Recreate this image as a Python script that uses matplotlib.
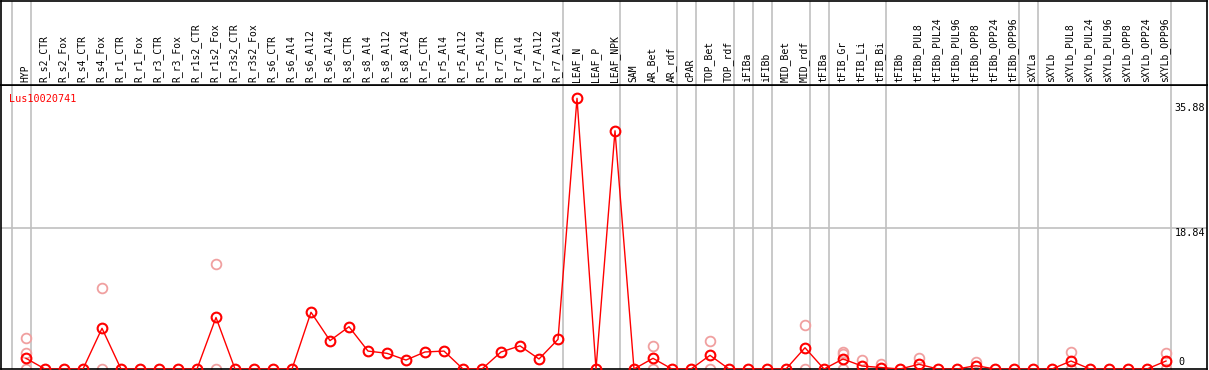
import matplotlib
matplotlib.use("Agg")
import matplotlib.pyplot as plt

samples = ["HYP", "R_s2_CTR", "R_s2_Fox", "R_s4_CTR", "R_s4_Fox", "R_r1_CTR", "R_r1_Fox",
           "R_r3_CTR", "R_r3_Fox", "R_r1s2_CTR", "R_r1s2_Fox", "R_r3s2_CTR", "R_r3s2_Fox",
           "R_s6_CTR", "R_s6_Al4", "R_s6_Al12", "R_s6_Al24", "R_s8_CTR", "R_s8_Al4",
           "R_s8_Al12", "R_s8_Al24", "R_r5_CTR", "R_r5_Al4", "R_r5_Al12", "R_r5_Al24",
           "R_r7_CTR", "R_r7_Al4", "R_r7_Al12", "R_r7_Al24", "LEAF_N", "LEAF_P", "LEAF_NPK",
           "SAM", "AR_Bet", "AR_rdf", "cPAR", "TOP_Bet", "TOP_rdf", "iFIBa", "iFIBb",
           "MID_Bet", "MID_rdf", "tFIBa", "tFIB_Gr", "tFIB_Li", "tFIB_Bi", "tFIBb",
           "tFIBb_PUL8", "tFIBb_PUL24", "tFIBb_PUL96", "tFIBb_OPP8", "tFIBb_OPP24",
           "tFIBb_OPP96", "sXYLa", "sXYLb", "sXYLb_PUL8", "sXYLb_PUL24", "sXYLb_PUL96",
           "sXYLb_OPP8", "sXYLb_OPP24", "sXYLb_OPP96"]

# mean expression per sample
means = [1.43, 0, 0, 0, 5.45, 0, 0, 0, 0, 0, 6.9, 0, 0, 0, 0,
         7.6, 3.8, 5.66, 2.4, 2.1, 1.2, 2.28, 2.4, 0, 0, 2.28, 3.1, 1.34, 3.97,
         36.25, 0, 31.9, 0, 1.43, 0, 0, 1.83, 0, 0, 0, 0, 2.85, 0, 1.34, 0.4, 0.2,
         0, 0.63, 0, 0, 0.45, 0, 0, 0, 0, 1.07, 0, 0, 0, 0, 1.07]

# replicate values (only where drawn)
rep_idx = [0, 0, 0, 4, 4, 10, 10, 33, 33, 36, 36, 41, 41, 43, 43, 43, 44, 45, 47, 50,
           55, 55, 60, 60]
rep_val = [4.1, 2.1, 0, 10.9, 0, 14.0, 0, 3.04, 0, 3.75, 0, 5.85, 0, 2.23, 2.0, 0,
           1.2, 0.7, 1.43, 0.98, 2.28, 0, 2.2, 0]

# group separators (after these sample indices)
group_ends = [-1, 0, 28, 31, 34, 35, 37, 38, 39, 41, 42, 45, 52, 53, 60]

ymax_label = 35.88
ymid_label = 18.84
gene = "Lus10020741"

W, H = 1209, 370
fig = plt.figure(figsize=(W / 100, H / 100), dpi=100)
xl = ((1 - 26) / 19, (1207 - 26) / 19)

ax = fig.add_axes([1 / W, 1 / H, 1206 / W, 284 / H])
top = fig.add_axes([1 / W, 285 / H, 1206 / W, 84 / H])

x = list(range(len(samples)))
for a in (ax, top):
    a.set_xlim(*xl)
    a.set_xticks([])
    a.set_yticks([])
    for s in a.spines.values():
        s.set_color("black")
        s.set_linewidth(1.2)
    for g in group_ends:
        a.axvline(g + 0.24, color="#c0c0c0", lw=1.2, zorder=0)

ax.set_ylim(0, 38.03)
ax.axhline(ymid_label, color="#c0c0c0", lw=1.2, zorder=0)

ax.plot(x, means, color="red", lw=1, zorder=3)
ax.plot(rep_idx, rep_val, ls="none", marker="o", ms=7, mfc="none", mec="#f0a0a0",
        mew=1.3, zorder=2)
ax.plot(x, means, ls="none", marker="o", ms=7, mfc="none", mec="red", mew=1.5, zorder=4)

mono = "DejaVu Sans Mono"
for i, name in enumerate(samples):
    top.text(i - 0.05, 0.03, name, rotation=90, ha="center", va="bottom",
             fontsize=7, family=mono)

ax.text(8 / W * 0 + xl[0] + 8 / 19, 36.2, gene, color="red", fontsize=7.3,
        family=mono, ha="left", va="center")
ax.text(xl[1] - 0.1, 35.0, f"{ymax_label:.2f}", fontsize=7.3, family=mono,
        ha="right", va="center")
ax.text(xl[1] - 0.1, ymid_label - 0.6, f"{ymid_label:.2f}", fontsize=7.3, family=mono,
        ha="right", va="center")
ax.text((1181 - 26) / 19, 0.95, "0", fontsize=7.3, family=mono, ha="center", va="center")

fig.savefig("out.png", dpi=100)
